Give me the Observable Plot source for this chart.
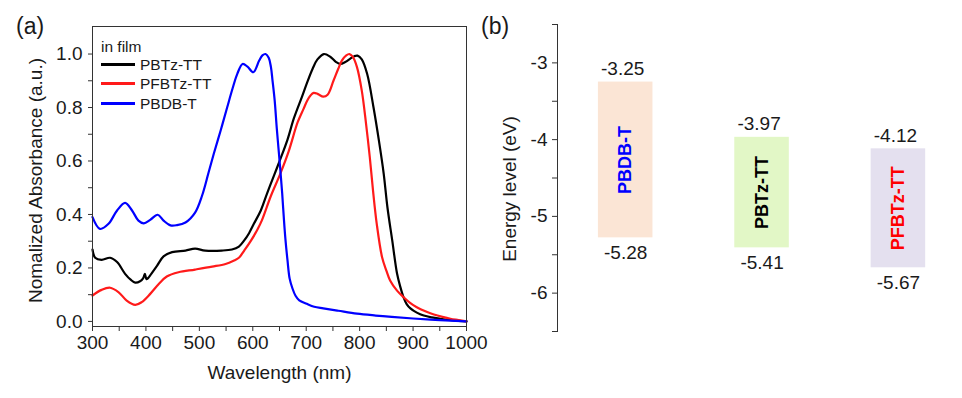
<!DOCTYPE html>
<html>
<head>
<meta charset="utf-8">
<script src="https://cdn.jsdelivr.net/npm/d3@7"></script>
<script src="https://cdn.jsdelivr.net/npm/@observablehq/plot@0.6"></script>
<style>
  html, body { margin: 0; padding: 0; background: #fff; }
  #wrap { position: relative; width: 962px; height: 398px; overflow: hidden;
          font-family: "Liberation Sans", Arial, sans-serif; color: #1a1a1a; }
  .panel { position: absolute; top: 0; }
  .tag { position: absolute; top: 15px; font-size: 23px; line-height: 1; }
  .lg { position: absolute; font-size: 15.5px; line-height: 19px; white-space: nowrap; }
  .sw { position: absolute; height: 3px; }
</style>
</head>
<body>
<div id="wrap">
  <div class="panel" id="pa" style="left:0"></div>
  <div class="panel" id="pb" style="left:480px"></div>
  <div class="tag" style="left:16px">(a)</div>
  <div class="tag" style="left:481px">(b)</div>
  <div id="legend"></div>
</div>
<script>
// ---------------- Panel (a): absorbance spectra ----------------
const seriesNames = ["PBTz-TT", "PFBTz-TT", "PBDB-T"];

const wlPBTzTT = [300,305,317,333,346,361,372,380,389,395,398,401,404,410,421,433,449,474,492,511,542,561,574,584,593,602,615,627,640,651,665,677,692,702,712,721,733,745,756,764,773,782,790,796,804,814,826,836,845,852,861,870,876,882,888,895,907,920,935,951,975,1000];
const absPBTzTT = [0.269,0.238,0.23,0.238,0.222,0.178,0.155,0.145,0.15,0.162,0.178,0.158,0.162,0.178,0.209,0.243,0.259,0.265,0.272,0.265,0.265,0.269,0.28,0.303,0.33,0.365,0.415,0.48,0.547,0.604,0.68,0.76,0.84,0.895,0.945,0.98,1.0,0.99,0.97,0.963,0.97,0.982,0.992,0.994,0.98,0.926,0.80,0.677,0.553,0.427,0.303,0.179,0.13,0.091,0.065,0.049,0.033,0.022,0.015,0.01,0.004,0.0];

const wlPFBTzTT = [300,317,333,349,364,380,392,408,424,439,461,492,524,549,564,574,584,596,609,617,634,651,667,684,695,702,708,714,722,732,740,751,760,767,775,781,787,795,804,812,819,825,832,842,850,857,870,882,895,907,923,939,955,970,985,1000];
const absPFBTzTT = [0.097,0.118,0.126,0.109,0.078,0.062,0.072,0.103,0.14,0.168,0.184,0.194,0.205,0.215,0.227,0.238,0.265,0.3,0.345,0.378,0.47,0.55,0.635,0.745,0.795,0.826,0.845,0.855,0.85,0.841,0.848,0.9,0.945,0.976,0.995,1.0,0.99,0.951,0.863,0.739,0.614,0.49,0.365,0.24,0.19,0.153,0.115,0.091,0.068,0.053,0.038,0.026,0.017,0.01,0.005,0.0];

const wlPBDBT = [300,314,330,346,361,374,386,396,408,422,433,446,458,474,492,505,517,527,540,552,562,571,581,590,601,612,618,624,630,634,637,641,645,648,651,653,655,658,661,665,669,674,680,687,701,715,732,760,795,830,860,900,950,1000];
const absPBDBT = [0.39,0.346,0.365,0.415,0.443,0.415,0.377,0.367,0.38,0.399,0.377,0.359,0.36,0.37,0.407,0.47,0.555,0.627,0.715,0.80,0.87,0.926,0.963,0.953,0.932,0.976,0.995,1.0,0.985,0.951,0.9,0.826,0.72,0.65,0.58,0.53,0.48,0.39,0.31,0.228,0.16,0.125,0.096,0.079,0.066,0.055,0.049,0.04,0.029,0.022,0.017,0.011,0.005,0.0];

const xTicksMajor = [300,400,500,600,700,800,900,1000];
const xTicksMinor = [350,450,550,650,750,850,950];
const yTicksMajor = [0,0.2,0.4,0.6,0.8,1.0];
const yTicksMinor = [0.1,0.3,0.5,0.7,0.9];
const xLabelA = "Wavelength (nm)";
const yLabelA = "Nomalized Absorbance (a.u.)";
const legendTitle = "in film";

// styles
const lineColors = ["#000000", "#ff1a1a", "#0000ff"];
const axisColor = "#333";
const fontFamily = "'Liberation Sans', Arial, sans-serif";
const tickFont = 19;

const spectra = [];
[[wlPBTzTT, absPBTzTT], [wlPFBTzTT, absPFBTzTT], [wlPBDBT, absPBDBT]].forEach(([wl, ab], k) => {
  wl.forEach((w, i) => spectra.push({series: seriesNames[k], wl: w, a: ab[i]}));
});

const plotA = Plot.plot({
  width: 480, height: 398,
  marginLeft: 92, marginRight: 14, marginTop: 26, marginBottom: 72,
  style: {fontFamily, fontSize: "19px", color: "#1a1a1a", background: "transparent", overflow: "visible"},
  x: {domain: [300, 1000]},
  y: {domain: [-0.019, 1.103]},
  color: {domain: seriesNames, range: lineColors},
  marks: [
    Plot.axisX({ticks: xTicksMajor, tickSize: 5, tickPadding: 4, tickFormat: d => String(d), label: null, stroke: axisColor, fontSize: tickFont}),
    Plot.axisX({ticks: xTicksMinor, tickSize: 5, tickFormat: () => "", label: null, stroke: axisColor}),
    Plot.axisY({ticks: yTicksMajor, tickSize: 4, tickPadding: 6, tickFormat: d3.format(".1f"), label: null, stroke: axisColor, fontSize: tickFont}),
    Plot.axisY({ticks: yTicksMinor, tickSize: 4, tickFormat: () => "", label: null, stroke: axisColor}),
    Plot.line(spectra, {x: "wl", y: "a", z: "series", stroke: "series", strokeWidth: 2.2, curve: "catmull-rom"}),
    Plot.frame({stroke: axisColor, strokeWidth: 1}),
    Plot.text([xLabelA], {text: d => d, frameAnchor: "bottom", dy: 46, lineAnchor: "middle", fontSize: 19}),
    Plot.text([yLabelA], {text: d => d, frameAnchor: "left", dx: -57, dy: 4, rotate: -90, lineAnchor: "middle", textAnchor: "middle", fontSize: 19})
  ]
});
document.getElementById("pa").appendChild(plotA);

// legend (HTML)
const legend = document.getElementById("legend");
const rowCenters = [64, 83.3, 103.3];
const t0 = document.createElement("div");
t0.className = "lg"; t0.style.left = "101px"; t0.style.top = (46 - 9.5) + "px"; t0.textContent = legendTitle;
legend.appendChild(t0);
seriesNames.forEach((name, i) => {
  const sw = document.createElement("div");
  sw.className = "sw";
  sw.style.left = "101px"; sw.style.width = "34px";
  sw.style.top = (rowCenters[i] - 1.5) + "px";
  sw.style.background = lineColors[i];
  legend.appendChild(sw);
  const t = document.createElement("div");
  t.className = "lg"; t.style.left = "140px"; t.style.top = (rowCenters[i] - 9.5) + "px";
  t.textContent = name;
  legend.appendChild(t);
});

// ---------------- Panel (b): energy levels ----------------
const polymers = ["PBDB-T", "PBTz-TT", "PFBTz-TT"];
const lumo = [-3.25, -3.97, -4.12];
const homo = [-5.28, -5.41, -5.67];
const eTicksMajor = [-3, -4, -5, -6];
const eTicksMinor = [-2.5, -3.5, -4.5, -5.5, -6.5];
const yLabelB = "Energy level (eV)";

const barFills = ["#fbe5d5", "#e2f7c6", "#e4e0ef"];
const labelColors = ["#0000ff", "#000000", "#ff0000"];

const levels = polymers.map((p, i) => ({name: p, pos: i + 1, lumo: lumo[i], homo: homo[i],
  mid: (lumo[i] + homo[i]) / 2, fill: barFills[i], tcolor: labelColors[i]}));

const plotB = Plot.plot({
  width: 482, height: 398,
  marginLeft: 77, marginRight: 0, marginTop: 24, marginBottom: 67,
  style: {fontFamily, fontSize: "19px", color: "#1a1a1a", background: "transparent", overflow: "visible"},
  x: {domain: [0.5, 3.47], axis: null},
  y: {domain: [-6.5, -2.5]},
  marks: [
    Plot.frame({anchor: "left", stroke: axisColor}),
    Plot.axisY({ticks: eTicksMajor, tickSize: 5, tickPadding: 5, tickFormat: d => String(d), label: null, stroke: axisColor, fontSize: 19}),
    Plot.axisY({ticks: eTicksMinor, tickSize: 5, tickFormat: () => "", label: null, stroke: axisColor}),
    Plot.rect(levels, {x1: d => d.pos - 0.2, x2: d => d.pos + 0.2, y1: "homo", y2: "lumo", fill: d => d.fill}),
    Plot.text(levels, {x: "pos", y: "mid", text: "name", rotate: -90, fill: d => d.tcolor, fontWeight: "bold", fontSize: 18, lineAnchor: "middle"}),
    Plot.text(levels, {x: "pos", y: "lumo", text: d => d.lumo.toFixed(2), dx: -3, dy: -13, lineAnchor: "middle", fontSize: 19}),
    Plot.text(levels, {x: "pos", y: "homo", text: d => d.homo.toFixed(2), dx: 0, dy: 15, lineAnchor: "middle", fontSize: 19}),
    Plot.text([yLabelB], {text: d => d, frameAnchor: "left", dx: -48, dy: 11, rotate: -90, lineAnchor: "middle", textAnchor: "middle", fontSize: 19})
  ]
});
document.getElementById("pb").appendChild(plotB);
</script>
</body>
</html>
